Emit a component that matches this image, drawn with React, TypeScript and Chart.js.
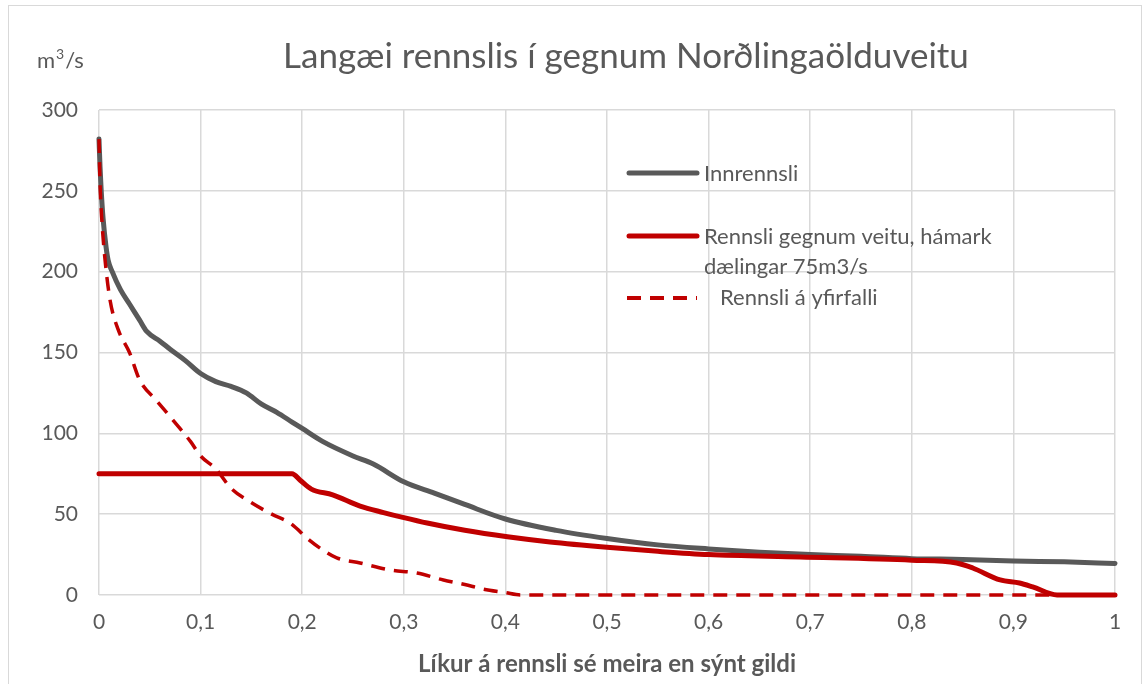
import React, { useEffect, useRef } from "react";
import { Chart, registerables } from "chart.js";

Chart.register(...registerables);

const innX = [0, 0.001, 0.002, 0.004, 0.007, 0.009, 0.013, 0.021, 0.03, 0.04, 0.047, 0.06, 0.07, 0.085, 0.1, 0.115, 0.13, 0.145, 0.16, 0.175, 0.19, 0.2, 0.22, 0.25, 0.27, 0.3, 0.33, 0.36, 0.4, 0.45, 0.5, 0.55, 0.6, 0.65, 0.7, 0.75, 0.8, 0.85, 0.9, 0.95, 1];
const innY = [282, 265, 252, 233, 215, 207, 200, 189, 180, 170, 163, 157, 152, 145, 137, 132, 129, 125, 118, 113, 107, 103, 95, 86, 81, 70, 63, 56, 47, 40, 35, 31, 28.5, 26.5, 25, 24, 22.5, 22, 21, 20.5, 19.5];

const veitaX = [0, 0.19, 0.198, 0.209, 0.23, 0.257, 0.28, 0.299, 0.323, 0.36, 0.402, 0.444, 0.5, 0.55, 0.6, 0.69, 0.8, 0.844, 0.86, 0.887, 0.906, 0.919, 0.943, 1];
const veitaY = [75, 75, 71, 65.5, 62, 55, 51, 48, 44.5, 40, 36, 32.8, 29.5, 27, 25, 23.5, 21.5, 19.8, 16.7, 9.3, 7.4, 5, 0, 0];

const yfirX = [0, 0.001, 0.003, 0.006, 0.011, 0.019, 0.03, 0.04, 0.057, 0.073, 0.09, 0.1, 0.115, 0.13, 0.149, 0.17, 0.188, 0.207, 0.22, 0.234, 0.257, 0.286, 0.313, 0.339, 0.36, 0.378, 0.4, 0.415, 1];
const yfirY = [282, 255, 230, 207, 182, 164, 150, 133, 120, 108, 95, 86, 78, 66, 57.5, 50, 44.5, 34, 28, 23, 19.8, 15.5, 13.6, 9.3, 6.5, 3.7, 1.5, 0, 0];

const xTicks = [0, 0.1, 0.2, 0.3, 0.4, 0.5, 0.6, 0.7, 0.8, 0.9, 1];
const yTicks = [0, 50, 100, 150, 200, 250, 300];

const seriesNames = ["Innrennsli", "Rennsli gegnum veitu, hámark", "dælingar 75m3/s", "Rennsli á yfirfalli"];
const titleText = "Langæi rennslis í gegnum Norðlingaölduveitu";
const unitParts = ["m", "3", "/s"];
const xTitleText = "Líkur á rennsli sé meira en sýnt gildi";

const GRAY = "#595959";
const RED = "#C00000";
const FONT = "Lato, 'Open Sans', sans-serif";

const toPts = (xs: number[], ys: number[]) => xs.map((x, i) => ({ x, y: ys[i] }));

const decorPlugin = {
  id: "decor",
  afterDraw(chart: any) {
    const ctx = chart.ctx as CanvasRenderingContext2D;
    ctx.save();
    // outer border
    ctx.strokeStyle = "#d9d9d9";
    ctx.lineWidth = 1;
    ctx.strokeRect(8.5, 5.5, 1133, 700);
    // title
    ctx.fillStyle = GRAY;
    ctx.textBaseline = "middle";
    ctx.textAlign = "center";
    ctx.font = `35px ${FONT}`;
    ctx.fillText(titleText, 626, 57);
    // unit m³/s
    ctx.textAlign = "left";
    ctx.font = `22px ${FONT}`;
    let ux = 37;
    ctx.fillText(unitParts[0], ux, 61);
    ux += ctx.measureText(unitParts[0]).width + 1;
    ctx.font = `14px ${FONT}`;
    ctx.fillText(unitParts[1], ux, 54);
    ux += ctx.measureText(unitParts[1]).width + 1;
    ctx.font = `22px ${FONT}`;
    ctx.fillText(unitParts[2], ux, 61);
    // x title
    ctx.textAlign = "center";
    ctx.font = `bold 24px ${FONT}`;
    ctx.fillText(xTitleText, 607, 664);
    // legend
    ctx.lineCap = "round";
    ctx.lineWidth = 5;
    ctx.strokeStyle = GRAY;
    ctx.beginPath();
    ctx.moveTo(629, 173);
    ctx.lineTo(697, 173);
    ctx.stroke();
    ctx.strokeStyle = RED;
    ctx.beginPath();
    ctx.moveTo(629, 236);
    ctx.lineTo(697, 236);
    ctx.stroke();
    ctx.lineWidth = 4;
    ctx.lineCap = "butt";
    ctx.setLineDash([14, 9]);
    ctx.beginPath();
    ctx.moveTo(627, 298);
    ctx.lineTo(697, 298);
    ctx.stroke();
    ctx.setLineDash([]);
    ctx.textAlign = "left";
    ctx.font = `22px ${FONT}`;
    ctx.fillStyle = GRAY;
    ctx.fillText(seriesNames[0], 704, 174);
    ctx.fillText(seriesNames[1], 704, 237);
    ctx.fillText(seriesNames[2], 704, 267);
    ctx.fillText(seriesNames[3], 720, 298);
    ctx.restore();
  },
};

export default function App() {
  const ref = useRef<HTMLCanvasElement>(null);
  useEffect(() => {
    if (!ref.current) return;
    const chart = new Chart(ref.current, {
      type: "line",
      data: {
        datasets: [
          {
            label: seriesNames[3],
            data: toPts(yfirX, yfirY),
            borderColor: RED,
            borderWidth: 3.5,
            borderDash: [14, 9],
            pointRadius: 0,
            cubicInterpolationMode: "monotone",
            borderCapStyle: "butt",
            clip: 8,
          },
          {
            label: seriesNames[1],
            data: toPts(veitaX, veitaY),
            borderColor: RED,
            borderWidth: 5,
            pointRadius: 0,
            cubicInterpolationMode: "monotone",
            borderCapStyle: "round",
            borderJoinStyle: "round",
            clip: 8,
          },
          {
            label: seriesNames[0],
            data: toPts(innX, innY),
            borderColor: GRAY,
            borderWidth: 5,
            pointRadius: 0,
            cubicInterpolationMode: "monotone",
            borderCapStyle: "round",
            borderJoinStyle: "round",
            clip: 8,
          },
        ],
      },
      options: {
        responsive: false,
        animation: false,
        layout: { padding: { left: 0, right: 28, top: 110, bottom: 0 } },
        plugins: { legend: { display: false }, tooltip: { enabled: false } },
        scales: {
          x: {
            type: "linear",
            min: 0,
            max: 1,
            afterBuildTicks: (s: any) => {
              s.ticks = xTicks.map((v) => ({ value: v }));
            },
            afterFit: (s: any) => {
              s.height = 89;
            },
            grid: { color: "#d9d9d9", lineWidth: 1.5, drawTicks: false },
            border: { display: false },
            ticks: {
              color: GRAY,
              font: { family: FONT, size: 21 },
              padding: 15,
              maxRotation: 0,
              callback: (v: any) => (v === 0 || v === 1 ? String(v) : Number(v).toFixed(1).replace(".", ",")),
            },
          },
          y: {
            min: 0,
            max: 300,
            afterBuildTicks: (s: any) => {
              s.ticks = yTicks.map((v) => ({ value: v }));
            },
            afterFit: (s: any) => {
              s.width = 99;
            },
            grid: { color: "#d9d9d9", lineWidth: 1.5, drawTicks: false },
            border: { display: false },
            ticks: {
              color: GRAY,
              font: { family: FONT, size: 21 },
              padding: 21,
            },
          },
        },
      },
      plugins: [decorPlugin],
    } as any);
    return () => chart.destroy();
  }, []);
  return (
    <canvas
      ref={ref}
      width={1143}
      height={684}
      style={{ position: "fixed", left: 0, top: 0, width: 1143, height: 684, background: "#fff" }}
    />
  );
}
